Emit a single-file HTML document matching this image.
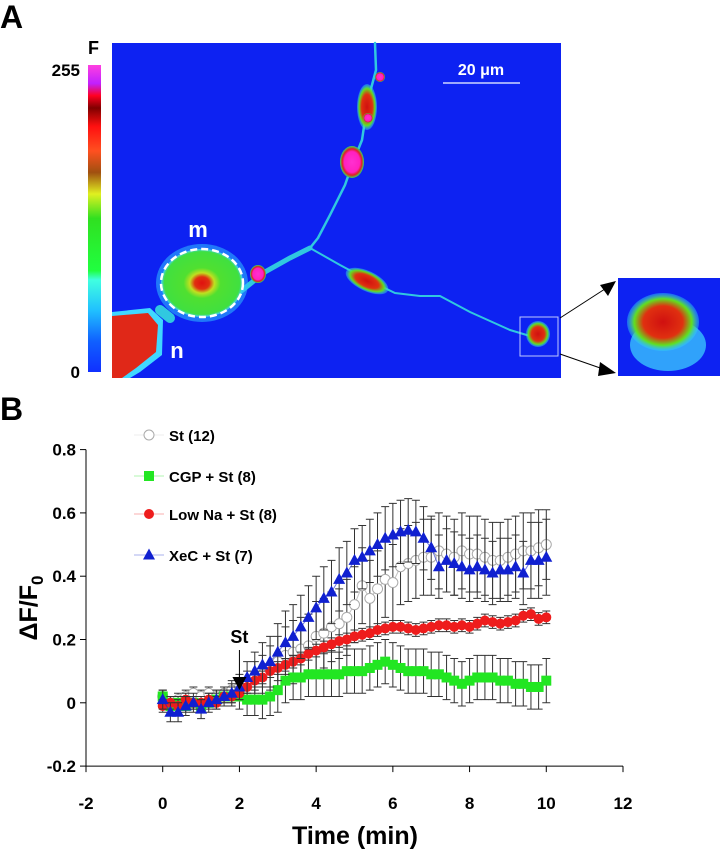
<!DOCTYPE html>
<html><head><meta charset="utf-8"><style>
body{margin:0;background:#fff;width:720px;height:853px;overflow:hidden;font-family:"Liberation Sans",Arial,sans-serif}
svg text{font-family:"Liberation Sans",Arial,sans-serif;font-weight:bold}
</style></head><body>
<svg id="fig" width="720" height="853" viewBox="0 0 720 853">
<defs>
<linearGradient id="cbar" x1="0" y1="1" x2="0" y2="0">
<stop offset="0" stop-color="#1030ff"/><stop offset="0.1" stop-color="#1060ff"/><stop offset="0.2" stop-color="#20c0ff"/>
<stop offset="0.3" stop-color="#40ffe0"/><stop offset="0.33" stop-color="#20ff40"/><stop offset="0.5" stop-color="#30e020"/>
<stop offset="0.58" stop-color="#e0f020"/><stop offset="0.65" stop-color="#a05010"/><stop offset="0.72" stop-color="#ff5020"/>
<stop offset="0.8" stop-color="#ff1010"/><stop offset="0.86" stop-color="#800000"/><stop offset="0.9" stop-color="#ff0020"/>
<stop offset="0.94" stop-color="#c020ff"/><stop offset="1" stop-color="#ff40e0"/></linearGradient>
<radialGradient id="cell"><stop offset="0" stop-color="#e01010"/><stop offset="0.18" stop-color="#e03010"/><stop offset="0.3" stop-color="#c0e020"/><stop offset="0.45" stop-color="#50e030"/><stop offset="0.92" stop-color="#40e040"/><stop offset="1" stop-color="#40d0ff"/></radialGradient>
<radialGradient id="hot"><stop offset="0" stop-color="#ff30d0"/><stop offset="0.65" stop-color="#ff20c0"/><stop offset="0.82" stop-color="#e02020"/><stop offset="1" stop-color="#30e060"/></radialGradient>
<radialGradient id="red"><stop offset="0" stop-color="#d01010"/><stop offset="0.55" stop-color="#e03010"/><stop offset="0.8" stop-color="#60e020"/><stop offset="1" stop-color="#30d0ff" stop-opacity="0.4"/></radialGradient>
</defs>
<text x="0" y="28" font-size="32">A</text>
<g>
<rect x="88" y="65" width="13" height="307" fill="url(#cbar)"/>
<text x="88" y="54" font-size="18">F</text>
<text x="80" y="76" font-size="17" text-anchor="end">255</text>
<text x="80" y="378" font-size="17" text-anchor="end">0</text>
</g>
<g>
<rect x="112" y="43" width="449" height="335" fill="#0d22f2"/>
<g stroke="#30c8e0" fill="none" stroke-linecap="round">
<path d="M375 43 L376 70 L368 100 L362 140 L352 165 L345 185 L330 215 L318 238 L310 248" stroke-width="2.5"/>
<path d="M310 248 L290 258 L265 272 L240 292" stroke-width="5"/>
<path d="M310 248 L340 265 L368 280 L395 293 L420 296 L440 296 L470 312 L510 330 L530 336" stroke-width="2"/>
<path d="M170 318 L160 310" stroke-width="10"/>
</g>
<ellipse cx="202" cy="283" rx="46" ry="39" fill="#30c0ff" opacity="0.55"/>
<ellipse cx="202" cy="283" rx="41" ry="34" fill="url(#cell)"/>
<ellipse cx="202" cy="283" rx="41" ry="34" fill="none" stroke="#fff" stroke-width="2.5" stroke-dasharray="7 4"/>
<path d="M112 312 L150 308 L163 320 L162 355 L140 372 L130 378 L112 378 Z" fill="#40d8ff"/>
<path d="M112 316 L148 313 L158 325 L156 352 L136 368 L122 378 L112 378 Z" fill="#e02818"/>
<ellipse cx="352" cy="162" rx="12" ry="16" fill="url(#hot)"/>
<ellipse cx="367" cy="107" rx="10" ry="23" fill="url(#red)"/>
<circle cx="380" cy="77" r="5" fill="url(#hot)"/>
<circle cx="368" cy="118" r="5" fill="url(#hot)"/>
<ellipse cx="367" cy="281" rx="23" ry="10" fill="url(#red)" transform="rotate(25 367 281)"/>
<ellipse cx="258" cy="274" rx="8" ry="9" fill="url(#hot)"/>
<ellipse cx="538" cy="334" rx="12" ry="13" fill="url(#red)"/>
<rect x="520" y="317" width="38" height="39" fill="none" stroke="#c0c8ff" stroke-width="1"/>
<line x1="443" y1="83" x2="520" y2="83" stroke="#d0d8ff" stroke-width="1.5"/>
<text x="481" y="75" font-size="16" fill="#fff" text-anchor="middle">20 μm</text>
<text x="198" y="237" font-size="22" fill="#fff" text-anchor="middle">m</text>
<text x="177" y="358" font-size="22" fill="#fff" text-anchor="middle">n</text>
</g>
<g>
<rect x="618" y="278" width="102" height="98" fill="#0d22f2"/>
<ellipse cx="668" cy="345" rx="38" ry="26" fill="#40d8ff" opacity="0.7"/>
<ellipse cx="663" cy="322" rx="36" ry="29" fill="url(#red)"/>
<line x1="560" y1="318" x2="608" y2="287" stroke="#000" stroke-width="1"/>
<polygon points="616,281 600,285 608,296" fill="#000"/>
<line x1="560" y1="354" x2="606" y2="370" stroke="#000" stroke-width="1"/>
<polygon points="616,373 600,362 598,376" fill="#000"/>
</g>
<text x="0" y="420" font-size="32">B</text>
<g id="chart"></g>
</svg>
<script>
const times=[0,0.2,0.4,0.6,0.8,1,1.2,1.4,1.6,1.8,2,2.2,2.4,2.6,2.8,3,3.2,3.4,3.6,3.8,4,4.2,4.4,4.6,4.8,5,5.2,5.4,5.6,5.8,6,6.2,6.4,6.6,6.8,7,7.2,7.4,7.6,7.8,8,8.2,8.4,8.6,8.8,9,9.2,9.4,9.6,9.8,10];
const stValues=[0.02,0,0.01,0.02,0.03,0.02,0.03,0.02,0.03,0.04,0.05,0.06,0.08,0.09,0.11,0.13,0.15,0.16,0.17,0.18,0.21,0.22,0.24,0.25,0.27,0.31,0.37,0.33,0.36,0.39,0.38,0.43,0.44,0.45,0.46,0.46,0.48,0.47,0.46,0.48,0.47,0.47,0.46,0.45,0.45,0.46,0.47,0.48,0.48,0.49,0.5];
const stErr=[0.02,0.02,0.02,0.02,0.02,0.02,0.02,0.02,0.02,0.03,0.03,0.04,0.05,0.06,0.07,0.08,0.09,0.1,0.1,0.1,0.11,0.11,0.11,0.11,0.12,0.12,0.12,0.12,0.12,0.12,0.12,0.12,0.12,0.12,0.12,0.12,0.12,0.12,0.12,0.12,0.12,0.12,0.12,0.12,0.12,0.12,0.12,0.12,0.12,0.12,0.11];
const cgpValues=[0.02,-0.01,0,-0.01,0,-0.01,0,0.01,0.02,0.02,0.02,0.01,0.01,0.01,0.02,0.04,0.07,0.08,0.08,0.09,0.09,0.09,0.09,0.09,0.1,0.1,0.1,0.11,0.12,0.13,0.12,0.11,0.1,0.1,0.1,0.09,0.09,0.08,0.07,0.06,0.07,0.08,0.08,0.08,0.07,0.07,0.06,0.06,0.05,0.05,0.07];
const cgpErr=[0.02,0.02,0.02,0.02,0.02,0.02,0.02,0.02,0.02,0.03,0.04,0.05,0.05,0.06,0.06,0.07,0.07,0.07,0.07,0.07,0.07,0.07,0.07,0.07,0.07,0.07,0.07,0.07,0.07,0.07,0.07,0.07,0.07,0.07,0.07,0.07,0.07,0.07,0.07,0.07,0.07,0.07,0.07,0.07,0.07,0.07,0.07,0.07,0.07,0.07,0.07];
const lowNaValues=[-0.01,0.0,-0.01,0.01,0.0,0.0,0.01,0.0,0.02,0.02,0.03,0.05,0.07,0.08,0.1,0.11,0.12,0.13,0.14,0.155,0.165,0.175,0.185,0.195,0.2,0.21,0.215,0.22,0.23,0.235,0.24,0.24,0.235,0.23,0.235,0.24,0.245,0.245,0.24,0.245,0.24,0.25,0.26,0.255,0.25,0.255,0.26,0.275,0.28,0.265,0.27];
const lowNaErr=[0.02,0.02,0.02,0.02,0.02,0.02,0.02,0.02,0.02,0.02,0.02,0.02,0.02,0.02,0.02,0.02,0.02,0.02,0.02,0.02,0.02,0.02,0.02,0.02,0.02,0.02,0.02,0.02,0.02,0.02,0.02,0.02,0.02,0.02,0.02,0.02,0.02,0.02,0.02,0.02,0.02,0.02,0.02,0.02,0.02,0.02,0.02,0.02,0.02,0.02,0.02];
const xecValues=[0.01,-0.03,-0.03,-0.01,0,-0.02,0,0.01,0.02,0.03,0.05,0.08,0.1,0.12,0.13,0.16,0.19,0.21,0.24,0.27,0.3,0.33,0.35,0.39,0.41,0.45,0.46,0.48,0.5,0.52,0.53,0.54,0.545,0.54,0.52,0.49,0.43,0.45,0.44,0.43,0.42,0.43,0.42,0.41,0.42,0.42,0.43,0.41,0.45,0.45,0.46];
const xecErr=[0.03,0.03,0.03,0.03,0.03,0.03,0.03,0.03,0.03,0.03,0.04,0.05,0.06,0.07,0.08,0.09,0.1,0.1,0.1,0.1,0.1,0.1,0.1,0.1,0.1,0.1,0.1,0.1,0.1,0.1,0.1,0.1,0.1,0.1,0.1,0.1,0.1,0.1,0.1,0.1,0.1,0.1,0.1,0.1,0.1,0.1,0.1,0.1,0.12,0.12,0.12];
const xTicks=[-2,0,2,4,6,8,10,12];
const yTicks=[-0.2,0,0.2,0.4,0.6,0.8];
const yTickLabels=["-0.2","0","0.2","0.4","0.6","0.8"];

const NS="http://www.w3.org/2000/svg";
const g=document.getElementById('chart');
const X=v=>86+(v+2)*(623-86)/14;
const Y=v=>702.8-v*316.5;
function mk(tag,attrs,parent){const e=document.createElementNS(NS,tag);for(const k in attrs)e.setAttribute(k,attrs[k]);(parent||g).appendChild(e);return e;}

let ax=mk('line',{x1:86,y1:Y(-0.2),x2:623,y2:Y(-0.2),stroke:'#000','stroke-width':1});


let ay=mk('line',{x1:86,y1:Y(0.8),x2:86,y2:Y(-0.2),stroke:'#000','stroke-width':1});


xTicks.forEach(t=>{
  mk('line',{x1:X(t),y1:Y(-0.2),x2:X(t),y2:Y(-0.2)+6,stroke:'#000'});
  const tx=mk('text',{x:X(t),y:809,'font-size':17,'text-anchor':'middle'});tx.textContent=t;
  
  
});
yTicks.forEach((t,i)=>{
  mk('line',{x1:80,y1:Y(t),x2:86,y2:Y(t),stroke:'#000'});
  const tx=mk('text',{x:76,y:Y(t)+6,'font-size':17,'text-anchor':'end'});tx.textContent=yTickLabels[i];
  
  
});
const xt=mk('text',{x:355,y:844,'font-size':25,'text-anchor':'middle'});xt.textContent='Time (min)';


const yt=mk('text',{x:0,y:0,'font-size':25,'text-anchor':'middle',transform:'translate(37 608) rotate(-90)'});
yt.innerHTML='ΔF/F<tspan font-size="17" dy="6">0</tspan>';



const series=[
 {name:'st',vals:stValues,err:stErr,fill:'#fff',stroke:'#999',shape:'circle',label:'St (12)'},
 {name:'cgp',vals:cgpValues,err:cgpErr,fill:'#22e622',stroke:'#22e622',shape:'square',label:'CGP + St (8)'},
 {name:'low-na',vals:lowNaValues,err:lowNaErr,fill:'#ee1c1c',stroke:'#ee1c1c',shape:'dot',label:'Low Na + St (8)'},
 {name:'xec',vals:xecValues,err:xecErr,fill:'#1020d0',stroke:'#1020d0',shape:'tri',label:'XeC + St (7)'}
];
function marker(s,x,y,parent){
  let e;
  if(s.shape==='circle')e=mk('circle',{cx:x,cy:y,r:5,fill:'#fff',stroke:'#aaa','stroke-width':1},parent);
  else if(s.shape==='square')e=mk('rect',{x:x-5,y:y-5,width:10,height:10,fill:s.fill},parent);
  else if(s.shape==='dot')e=mk('circle',{cx:x,cy:y,r:5,fill:s.fill},parent);
  else e=mk('polygon',{points:`${x},${y-6.5} ${x-6},${y+4.5} ${x+6},${y+4.5}`,fill:s.fill},parent);
  return e;
}
series.forEach(s=>{
  const sg=mk('g',{});
  
  
  times.forEach((t,i)=>{
    const x=X(t),y1=Y(s.vals[i]+s.err[i]),y2=Y(s.vals[i]-s.err[i]);
    mk('path',{d:`M${x} ${y1}V${y2}M${x-4} ${y1}H${x+4}M${x-4} ${y2}H${x+4}`,stroke:'#333','stroke-width':1,fill:'none'},sg);
  });
  mk('polyline',{points:times.map((t,i)=>X(t)+','+Y(s.vals[i])).join(' '),fill:'none',stroke:s.stroke,'stroke-width':1,opacity:0.6},sg);
  times.forEach((t,i)=>{
    const m=marker(s,X(t),Y(s.vals[i]),sg);
    
    
  });
});
const lg=mk('g',{});


[435,476,514,555].forEach((ly,i)=>{
  const s=series[i];
  const le=mk('g',{},lg);
  
  
  mk('line',{x1:134,y1:ly,x2:164,y2:ly,stroke:s.shape==='circle'?'#ccc':s.stroke,'stroke-width':1,opacity:0.35},le);
  marker(s,149,ly,le);
  const tx=mk('text',{x:169,y:ly+6,'font-size':15},le);tx.textContent=s.label;
});
const sa=mk('g',{});


const st=mk('text',{x:X(2),y:643,'font-size':18,'text-anchor':'middle'},sa);st.textContent='St';
mk('line',{x1:X(2),y1:650,x2:X(2),y2:678,stroke:'#000'},sa);
mk('polygon',{points:`${X(2)-7},677 ${X(2)+7},677 ${X(2)},690`,fill:'#000'},sa);
</script>
</body></html>
